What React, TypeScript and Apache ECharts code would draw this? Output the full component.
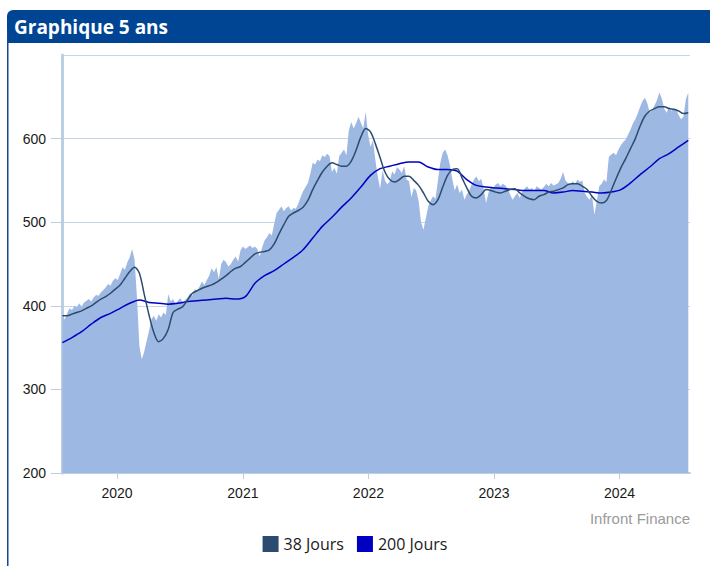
import React, { useEffect, useRef } from "react";
import * as echarts from "echarts";

// Weekly closing values, starting 2019-07-26
const START_UTC = Date.UTC(2019, 6, 26);
const PRICE = [
  387, 384, 391, 397, 395, 400, 398, 403, 399, 404,
  406, 408, 405, 410, 413, 412, 416, 419, 422, 426,
  424, 430, 433, 431, 438, 446, 443, 452, 458, 468,
  455, 410, 352, 336, 345, 358, 370, 384, 388, 382,
  390, 386, 392, 389, 414, 405, 408, 402, 406, 409,
  404, 407, 410, 415, 412, 420, 418, 423, 429, 425,
  431, 436, 445, 440, 446, 432, 450, 455, 452, 447,
  450, 455, 459, 453, 466, 471, 468, 470, 472, 469,
  471, 468, 459, 470, 478, 482, 487, 484, 498, 511,
  515, 519, 513, 517, 519, 514, 517, 516, 522, 530,
  537, 542, 547, 558, 571, 569, 575, 573, 580, 578,
  582, 579, 560, 565, 558, 579, 583, 587, 580, 610,
  620, 612, 618, 626, 619, 612, 632, 605, 590, 598,
  575, 555, 540, 562, 550, 545, 549, 561, 557, 566,
  563, 559, 567, 551, 549, 530, 541, 538, 525, 500,
  491, 505, 519, 526, 531, 528, 550, 571, 583, 587,
  580, 568, 551, 538, 545, 535, 539, 527, 533, 538,
  545, 551, 555, 549, 552, 540, 523, 535, 543, 541,
  545, 547, 543, 546, 544, 540, 533, 527, 531, 535,
  529, 536, 540, 543, 539, 541, 537, 543, 541, 539,
  542, 546, 543, 547, 544, 545, 547, 552, 560, 550,
  547, 545, 549, 546, 551, 548, 550, 535, 530, 527,
  533, 509, 525, 543, 546, 551, 548, 578, 581, 583,
  580, 587, 592, 596, 599, 605, 611, 618, 623, 630,
  638, 645, 649, 642, 631, 634, 640, 646, 655, 648,
  636, 631, 638, 633, 636, 635, 628, 623, 626, 647, 655,
];

// 38-day moving average, one value every 2 weeks
const MA38 = [
  388, 388, 390, 392, 394, 397, 400, 404, 408, 411,
  415, 420, 425, 433, 441, 446, 439, 414, 389, 368,
  357, 361, 372, 392, 396, 399, 407, 415, 418, 421,
  423, 425, 428, 432, 436, 441, 445, 447, 452, 457,
  462, 464, 465, 467, 474, 486, 497, 507, 511, 514,
  518, 526, 539, 550, 560, 567, 571, 569, 567, 567,
  573, 586, 602, 612, 608, 594, 577, 560, 551, 548,
  551, 555, 555, 550, 544, 535, 525, 521, 527, 542,
  556, 563, 564, 553, 541, 531, 529, 533, 539, 538,
  536, 535, 537, 539, 540, 535, 531, 528, 527, 531,
  533, 536, 537, 539, 541, 545, 546, 546, 543, 539,
  531, 525, 523, 526, 538, 552, 565, 576, 588, 600,
  615, 627, 633, 636, 638, 638, 636, 635, 633, 630,
  631,
];

// 200-day moving average, one value every 4 weeks
const MA200 = [
  356, 362, 369, 378, 386, 391, 397, 403, 407, 404,
  403, 402, 403, 405, 406, 407, 408, 409, 408, 411,
  427, 436, 442, 450, 458, 467, 481, 495, 506, 518,
  529, 542, 556, 564, 567, 570, 572, 572, 566, 563,
  563, 561, 551, 544, 542, 541, 540, 539, 538, 538,
  538, 535, 536, 538, 537, 536, 535, 536, 539, 547,
  557, 566, 576, 582, 590, 598,
];

const YEARS = [2020, 2021, 2022, 2023, 2024];
const Y_MIN = 200;
const Y_MAX = 700;
const Y_STEP = 100;
const SERIES_NAMES = ["Cours", "38 Jours", "200 Jours"];
const TITLE = "Graphique 5 ans";
const SOURCE = "Infront Finance";

const WEEK = 7 * 86400000;

function toPairs(values: number[], stepWeeks: number) {
  return values.map((v, i) => [START_UTC + i * stepWeeks * WEEK, v]);
}

export default function App() {
  const ref = useRef<HTMLDivElement>(null);

  useEffect(() => {
    document.body.style.margin = "0";
    if (!ref.current) return;
    const chart = echarts.init(ref.current, undefined, { renderer: "svg" });
    const yearTicks = YEARS.map((y) => Date.UTC(y, 0, 1));
    chart.setOption({
      animation: false,
      backgroundColor: "#ffffff",
      grid: { left: 62, right: 20, top: 55, bottom: 93, containLabel: false },
      xAxis: {
        type: "value",
        min: Date.UTC(2019, 6, 25),
        max: Date.UTC(2024, 6, 24),
        axisLine: { show: true, onZero: false, lineStyle: { color: "#bccfe2", width: 2 } },
        axisTick: {
          show: true,
          length: 6,
          lineStyle: { color: "#bccfe2", width: 1 },
          customValues: yearTicks,
        },
        axisLabel: {
          customValues: yearTicks,
          color: "#1a1a1a",
          fontFamily: "Liberation Sans, Arial, sans-serif",
          fontSize: 14,
          margin: 13,
          formatter: (v: number) => String(new Date(v).getUTCFullYear()),
        },
        splitLine: { show: false },
      },
      yAxis: {
        type: "value",
        min: Y_MIN,
        max: Y_MAX,
        interval: Y_STEP,
        axisLine: { show: true, onZero: false, lineStyle: { color: "#bccfe2", width: 3 } },
        axisTick: { show: true, length: 11, lineStyle: { color: "#bccfe2" } },
        axisLabel: {
          showMaxLabel: false,
          color: "#1a1a1a",
          fontFamily: "Liberation Sans, Arial, sans-serif",
          fontSize: 14,
          margin: 16,
        },
        splitLine: { show: true, lineStyle: { color: "#c6d6e6", width: 1.2 } },
      },
      legend: {
        data: [SERIES_NAMES[1], SERIES_NAMES[2]],
        left: "center",
        top: 531,
        icon: "rect",
        itemWidth: 16,
        itemHeight: 16,
        itemGap: 13,
        textStyle: {
          color: "#1a1a1a",
          fontFamily: "Open Sans, sans-serif",
          fontSize: 16,
        },
      },
      graphic: [
        {
          type: "rect",
          left: 7,
          top: 10,
          shape: { width: 710, height: 33, r: [6, 0, 0, 0] },
          style: { fill: "#004494" },
          silent: true,
        },
        {
          type: "rect",
          left: 7,
          top: 30,
          shape: { width: 1.5, height: 540 },
          style: { fill: "#0d4a9a" },
          silent: true,
        },
        {
          type: "text",
          left: 14,
          top: 17,
          style: {
            text: TITLE,
            fill: "#ffffff",
            font: "bold 19px 'Open Sans', sans-serif",
          },
        },
        {
          type: "text",
          right: 20,
          top: 511,
          style: {
            text: SOURCE,
            fill: "#9a9a9a",
            font: "15px 'Liberation Sans', Arial, sans-serif",
          },
        },
      ],
      series: [
        {
          name: SERIES_NAMES[0],
          type: "line",
          data: toPairs(PRICE, 1),
          showSymbol: false,
          symbol: "none",
          lineStyle: { width: 0, color: "#9db8e3" },
          itemStyle: { color: "#9db8e3" },
          areaStyle: { color: "#9db8e3", opacity: 1, origin: "start" },
          z: 1,
        },
        {
          name: SERIES_NAMES[1],
          type: "line",
          data: toPairs(MA38, 2),
          showSymbol: false,
          symbol: "none",
          smooth: 0.3,
          lineStyle: { width: 1.5, color: "#2b4c6e" },
          itemStyle: { color: "#2b4c6e" },
          z: 3,
        },
        {
          name: SERIES_NAMES[2],
          type: "line",
          data: toPairs(MA200, 4),
          showSymbol: false,
          symbol: "none",
          smooth: 0.3,
          lineStyle: { width: 1.5, color: "#0000c2" },
          itemStyle: { color: "#0000c2" },
          z: 2,
        },
      ],
    });
    return () => chart.dispose();
  }, []);

  return (
    <div style={{ position: "relative", width: 710, height: 566, background: "#fff" }}>
      <div ref={ref} style={{ position: "absolute", left: 0, top: 0, width: 710, height: 566 }} />
    </div>
  );
}
